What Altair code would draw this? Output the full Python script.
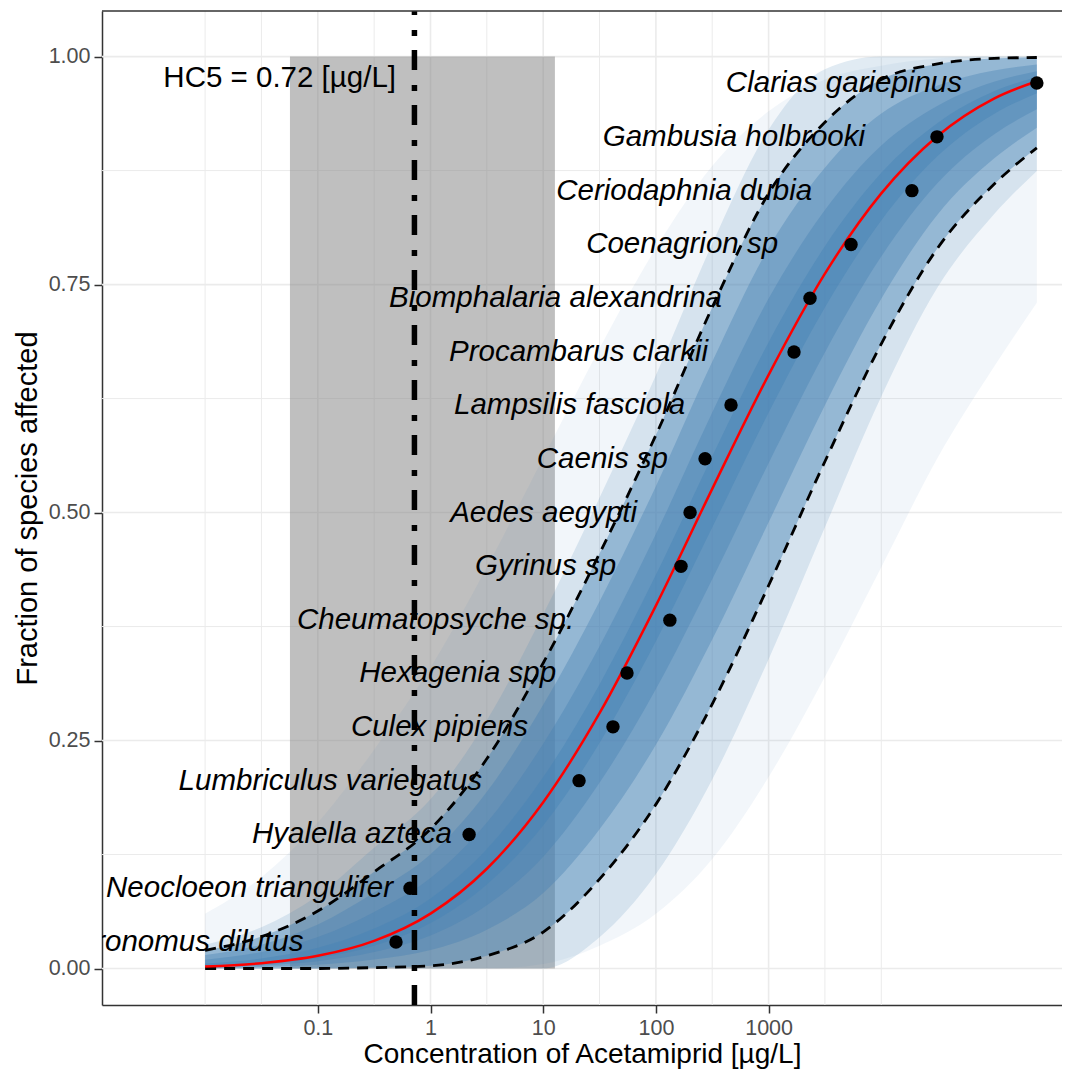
import altair as alt
import pandas as pd

FONT = "Liberation Sans"

# ---- species data (toxicity value, plotting position, label anchor) ----
species = ["Chironomus dilutus", "Neocloeon triangulifer", "Hyalella azteca",
           "Lumbriculus variegatus", "Culex pipiens", "Hexagenia spp",
           "Cheumatopsyche sp.", "Gyrinus sp", "Aedes aegypti", "Caenis sp",
           "Lampsilis fasciola", "Procambarus clarkii", "Biomphalaria alexandrina",
           "Coenagrion sp", "Ceriodaphnia dubia", "Gambusia holbrooki",
           "Clarias gariepinus"]
conc = [0.494, 0.658, 2.20, 20.8, 41.6, 55.4, 133, 167, 201, 273, 464,
        1680, 2330, 5390, 18700, 31200, 240000]
frac = [0.029, 0.088, 0.147, 0.206, 0.265, 0.324, 0.382, 0.441, 0.500,
        0.559, 0.618, 0.676, 0.735, 0.794, 0.853, 0.912, 0.971]
label_conc = [0.0745, 0.465, 1.55, 2.86, 7.33, 13.0, 18.8, 44.3, 68.1, 128,
              182, 290, 386, 1213, 2432, 7180, 52000]

curve_conc = [0.01, 0.0316, 0.1, 0.316, 1, 3.16, 10, 31.6, 100, 316, 1000,
              3160, 10000, 31600, 100000, 240000]
fit_frac = [0.0022, 0.0058, 0.0139, 0.0303, 0.0602, 0.1094, 0.1824, 0.280,
            0.398, 0.526, 0.651, 0.762, 0.850, 0.913, 0.954, 0.973]
ci_upper = [0.020, 0.035, 0.063, 0.106, 0.153, 0.230, 0.335, 0.455, 0.585,
            0.725, 0.850, 0.928, 0.975, 0.992, 0.998, 0.999]
ci_lower = [0.000, 0.000, 0.000, 0.001, 0.003, 0.014, 0.040, 0.098, 0.180,
            0.290, 0.420, 0.556, 0.685, 0.790, 0.860, 0.900]

# bootstrap-curve spread, from faint outer fringe to dense core
spread_a_hi = [0.06, 0.10, 0.16, 0.24, 0.33, 0.44, 0.56, 0.68, 0.79, 0.88,
               0.94, 0.975, 0.99, 0.998, 1.0, 1.0]
spread_a_lo = [0.0, 0.0, 0.0, 0.0, 0.0, 0.0, 0.005, 0.025, 0.06, 0.12, 0.21,
               0.32, 0.44, 0.56, 0.66, 0.73]
spread_b_hi = [0.0262, 0.0452, 0.0802, 0.1325, 0.1855, 0.2722, 0.3884, 0.5163,
               0.6505, 0.7947, 0.9197, 0.9861, 1.0, 1.0, 1.0, 1.0]
spread_b_lo = [0.0, 0.0, 0.0, 0.0, 0.0, 0.0, 0.0, 0.0343, 0.1037, 0.2074,
               0.3392, 0.4839, 0.6273, 0.7470, 0.8271, 0.8745]
spread_d_hi = [0.0147, 0.0262, 0.0483, 0.0833, 0.1252, 0.1938, 0.2892, 0.4025,
               0.5289, 0.6653, 0.7903, 0.8782, 0.9375, 0.9683, 0.9848, 0.9912]
spread_d_lo = [0.0007, 0.0017, 0.0042, 0.0098, 0.0202, 0.0426, 0.0827, 0.1526,
               0.2454, 0.3608, 0.4893, 0.6178, 0.7345, 0.8269, 0.8882, 0.9219]
spread_e_hi = [0.0097, 0.0181, 0.0345, 0.0621, 0.0992, 0.16, 0.2465, 0.3535,
               0.4765, 0.6096, 0.7346, 0.8317, 0.9025, 0.9462, 0.9725, 0.9839]
spread_e_lo = [0.0013, 0.0034, 0.0081, 0.018, 0.0362, 0.0693, 0.1226, 0.2036,
               0.3064, 0.4269, 0.554, 0.6755, 0.7807, 0.8613, 0.9145, 0.9423]
spread_f_hi = [0.0054, 0.0111, 0.0227, 0.0439, 0.0769, 0.1311, 0.2099, 0.3115,
               0.4317, 0.5618, 0.6868, 0.7919, 0.8725, 0.9272, 0.9619, 0.9777]
spread_f_lo = [0.0018, 0.0048, 0.0114, 0.025, 0.0499, 0.0922, 0.1568, 0.2472,
               0.3588, 0.4835, 0.6094, 0.7249, 0.8203, 0.8909, 0.9371, 0.9599]

# ---- HC5 ----
hc5 = 0.72
hc5_ci = [0.0566, 12.7]
hc5_label = "HC5 = 0.72 [µg/L]"
hc5_label_conc = 0.494
hc5_label_frac = 0.976

# ---- axis breaks ----
x_major = [0.1, 1, 10, 100, 1000]
x_minor = [0.01, 0.0316, 0.316, 3.16, 31.6, 316, 3160, 10000]
y_major = [0, 0.25, 0.5, 0.75, 1]
y_minor = [0.125, 0.375, 0.625, 0.875]

W, H = 960, 994
x_dom = [0.001216, 401300]
y_dom = [-0.04, 1.05]
xs = alt.Scale(type="log", domain=x_dom, nice=False)
ys = alt.Scale(domain=y_dom, nice=False, zero=False)

GRID = "#EBEBEB"
INK = "#333333"

X_AX = alt.Axis(
    values=x_major, format="~g", grid=False, labelFont=FONT, labelFontSize=21.5,
    labelColor="#4D4D4D", tickColor=INK, tickSize=8, tickWidth=1.5,
    domainColor=INK, domainWidth=1.5, labelPadding=4, labelOverlap=False,
    labelFlush=False,
    title="Concentration of Acetamiprid [µg/L]", titleFont=FONT, titleFontSize=28,
    titleFontWeight="normal", titleColor="black", titlePadding=2)
Y_AX = alt.Axis(
    values=y_major, format=".2f", grid=False, labelFont=FONT, labelFontSize=21.5,
    labelColor="#4D4D4D", tickColor=INK, tickSize=8, tickWidth=1.5,
    domainColor=INK, domainWidth=1.5, labelPadding=4, labelOverlap=False,
    labelFlush=False,
    title="Fraction of species affected", titleFont=FONT, titleFontSize=29,
    titleFontWeight="normal", titleColor="black", titlePadding=6)


def X(field):
    return alt.X(field, scale=xs, axis=X_AX)


def Y(field):
    return alt.Y(field, scale=ys, axis=Y_AX)


pts = pd.DataFrame({"species": species, "conc": conc, "frac": frac,
                    "lconc": label_conc})
curves = pd.DataFrame({"conc": curve_conc, "fit": fit_frac, "up": ci_upper,
                       "low": ci_lower})


def xgrid(vals, w):
    d = pd.DataFrame({"g": vals, "y1": [y_dom[0]] * len(vals), "y2": [y_dom[1]] * len(vals)})
    return alt.Chart(d).mark_rule(color=GRID, strokeWidth=w).encode(
        x=X("g:Q"), y=Y("y1:Q"), y2="y2:Q")


def ygrid(vals, w):
    d = pd.DataFrame({"g": vals, "x1": [x_dom[0]] * len(vals), "x2": [x_dom[1]] * len(vals)})
    return alt.Chart(d).mark_rule(color=GRID, strokeWidth=w).encode(
        y=Y("g:Q"), x=X("x1:Q"), x2="x2:Q")


layers = [xgrid(x_minor, 1.0), xgrid(x_major, 1.6), ygrid(y_minor, 1.0), ygrid(y_major, 1.6)]

rect = alt.Chart(pd.DataFrame({"x1": [hc5_ci[0]], "x2": [hc5_ci[1]], "y1": [0], "y2": [1]})).mark_rect(
    color="#7F7F7F", opacity=0.5).encode(
    x=X("x1:Q"), x2="x2:Q", y=Y("y1:Q"), y2="y2:Q")
layers.append(rect)

bands = [(spread_a_lo, spread_a_hi, 0.07),
         (spread_b_lo, spread_b_hi, 0.16),
         (ci_lower, ci_upper, 0.45),
         (spread_d_lo, spread_d_hi, 0.38),
         (spread_e_lo, spread_e_hi, 0.38),
         (spread_f_lo, spread_f_hi, 0.42)]
for lo, hi, op in bands:
    d = pd.DataFrame({"conc": curve_conc, "lo": lo, "hi": hi})
    layers.append(alt.Chart(d).mark_area(color="#4682B4", opacity=op, interpolate="monotone").encode(
        x=X("conc:Q"), y=Y("lo:Q"), y2="hi:Q"))

labels = alt.Chart(pts).mark_text(align="right", baseline="middle", font=FONT,
                                  fontStyle="italic", fontSize=29.5, color="black",
                                  clip=True).encode(
    x=X("lconc:Q"), y=Y("frac:Q"), text="species:N")
layers.append(labels)

for col in ["up", "low"]:
    layers.append(alt.Chart(curves).mark_line(color="black", strokeWidth=2.8, strokeDash=[11, 8],
                                              interpolate="monotone").encode(
        x=X("conc:Q"), y=Y(f"{col}:Q")))

layers.append(alt.Chart(curves).mark_line(color="#FF0000", strokeWidth=2.5, interpolate="monotone").encode(
    x=X("conc:Q"), y=Y("fit:Q")))

points = alt.Chart(pts).mark_circle(size=180, color="black", opacity=1).encode(
    x=X("conc:Q"), y=Y("frac:Q"))
layers.append(points)

hc5_line = alt.Chart(pd.DataFrame({"h": [hc5], "y1": [y_dom[0]], "y2": [y_dom[1]]})).mark_rule(
    color="black", strokeWidth=5.5, strokeDash=[20, 14, 6, 15]).encode(
    x=X("h:Q"), y=Y("y1:Q"), y2="y2:Q")
layers.append(hc5_line)

hc5_text = alt.Chart(pd.DataFrame({"x": [hc5_label_conc], "y": [hc5_label_frac], "t": [hc5_label]})).mark_text(
    align="right", baseline="middle", font=FONT, fontSize=29.5, color="black").encode(
    x=X("x:Q"), y=Y("y:Q"), text="t:N")
layers.append(hc5_text)

top_border = alt.Chart(pd.DataFrame({"b": [y_dom[1]], "x1": [x_dom[0]], "x2": [x_dom[1]]})).mark_rule(
    color=INK, strokeWidth=1.5).encode(
    y=Y("b:Q"), x=X("x1:Q"), x2="x2:Q")
layers.append(top_border)

chart = alt.layer(*layers).properties(
    width=W, height=H,
    autosize=alt.AutoSizeParams(type="none"),
    padding={"left": 94, "top": 3, "right": 0, "bottom": 68},
    background="white",
).configure_view(stroke=None)

chart.save("out.html", embed_options={"renderer": "svg", "actions": False})
